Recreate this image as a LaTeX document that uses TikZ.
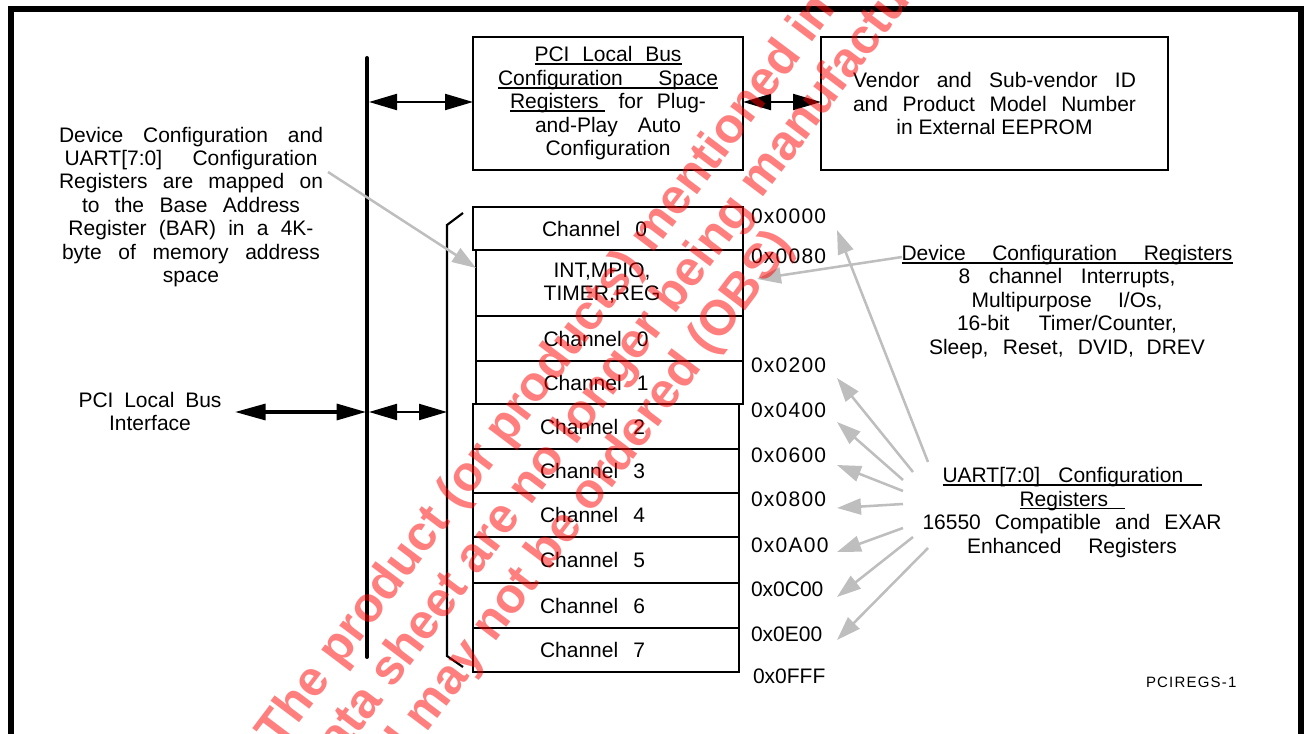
\documentclass[tikz,border=0pt]{standalone}
\usepackage{fontspec}
\setmainfont{Liberation Sans}
\usetikzlibrary{arrows.meta}
\newdimen\pxu \pxu=0.75pt
\newsavebox\ulnbox
\newcommand\uln[1]{\sbox\ulnbox{#1}\rlap{\rule[-2.4pt]{\wd\ulnbox}{1.4pt}}\usebox\ulnbox}
\newcommand\js[2]{\makebox[#1\pxu][s]{#2}}
\newcommand\chan[1]{\js{105}{Channel #1}\hspace*{27\pxu}}
\newcommand\lsp{\addfontfeature{LetterSpace=6}}
\definecolor{arrowgray}{RGB}{190,190,190}
\begin{document}
\begin{tikzpicture}[x=0.75pt,y=-0.75pt,
  every node/.style={font=\fontsize{15.75}{17.6}\selectfont, inner sep=0pt, outer sep=0pt},
  box/.style={draw, line width=1.5pt, align=center},
  reg/.style={draw, line width=1.8pt},
  bk/.style={line width=1.6pt, {Triangle[length=21pt,width=12pt]}-{Triangle[length=21pt,width=12pt]}},
  bkthick/.style={line width=2.4pt, {Triangle[length=23pt,width=12pt]}-{Triangle[length=22pt,width=12pt]}},
  ga/.style={draw=arrowgray, line width=1.9pt, -{Triangle[length=18pt,width=12pt]}},
  txt/.style={align=center},
  addr/.style={anchor=west},
  wm/.style={font=\bfseries\fontsize{37}{37}\selectfont, text=red, text opacity=0.5, rotate=53, anchor=base west}
]
\useasboundingbox (0,0) rectangle (1304,734);
\clip (0,0) rectangle (1304,734);

% frame
\draw[line width=4.5pt] (10.5,745) -- (10.5,9) -- (1300.5,9) -- (1300.5,745);

% bus
\coordinate (busT) at (367,58);
\coordinate (busB) at (367,657);
\draw[line width=3pt, line cap=round] (busT) -- (busB);

% top boxes
\node[box, minimum width=202.5pt, minimum height=99.75pt] (pci) at (608,103.5)
  {\uln{\js{147}{PCI Local Bus}}\\ \uln{\js{220}{Configuration Space}}\\ \js{196}{\uln{Registers\ } for Plug-}\\ \js{146}{and-Play Auto}\\ Configuration};
\node[box, minimum width=260.25pt, minimum height=99.75pt] (ven) at (994.5,103.5)
  {\js{283}{Vendor and Sub-vendor ID}\\ \js{283}{and Product Model Number}\\ in External EEPROM};

\coordinate (busA) at (369,102);
\draw[bk] (busA) -- (pci.west |- busA);
\draw[bk] (pci.east |- busA) -- (ven.west |- busA);

% register stack
\node[reg, minimum width=202.5pt, minimum height=32.25pt] (r0) at (608,228.5) {\chan{0}};
\node[reg, minimum width=200.25pt, minimum height=49.5pt] (r1) at (609.5,283) {};
\node[txt] (r1t) at (602,283) {INT,MPIO,\\TIMER,REG};
\node[reg, minimum width=200.25pt, minimum height=33.75pt] (r2) at (609.5,338.5) {\chan{0}};
\node[reg, minimum width=200.25pt, minimum height=32.25pt] (r3) at (609.5,382.5) {\chan{1}};
\node[reg, minimum width=199.5pt, minimum height=33.75pt] (r4) at (606,426.5) {\chan{2}};
\node[reg, minimum width=199.5pt, minimum height=33pt] (r5) at (606,471) {\chan{3}};
\node[reg, minimum width=199.5pt, minimum height=33pt] (r6) at (606,515) {\chan{4}};
\node[reg, minimum width=199.5pt, minimum height=34.5pt] (r7) at (606,560) {\chan{5}};
\node[reg, minimum width=199.5pt, minimum height=33.75pt] (r8) at (606,605.5) {\chan{6}};
\node[reg, minimum width=199.5pt, minimum height=33pt] (r9) at (606,650) {\chan{7}};

% bracket
\coordinate (brT1) at (463,213);
\coordinate (brT2) at (447,225);
\coordinate (brB2) at (447,656);
\coordinate (brB1) at (463,667);
\draw[line width=1.6pt] (brT1) -- (brT2) -- (brB2) -- (brB1);

% PCI interface
\node[txt] (pcitxt) at (150,411.5) {\js{143}{PCI Local Bus}\\Interface};
\coordinate (ifL) at (235,412);
\coordinate (busIL) at (366,412);
\coordinate (busIR) at (369,412);
\coordinate (brI) at (447,412);
\draw[bkthick] (ifL) -- (busIL);
\draw[bk] (busIR) -- (brI);

% left description
\node[txt] (lefttxt) at (191,207)
  {\js{264}{Device Configuration and}\\ \js{253}{UART[7:0] Configuration}\\ \js{264}{Registers are mapped on}\\ \js{218}{to the Base Address}\\ \js{245}{Register (BAR) in a 4K-}\\ \js{258}{byte of memory address}\\ space};

% addresses
\node[addr] (a0) at (751,216) {\lsp 0x0000};
\node[addr] (a1) at (751,256) {\lsp 0x0080};
\node[addr] (a2) at (751,365) {\lsp 0x0200};
\node[addr] (a3) at (751,410) {\lsp 0x0400};
\node[addr] (a4) at (751,455) {\lsp 0x0600};
\node[addr] (a5) at (751,499) {\lsp 0x0800};
\node[addr] (a6) at (751,545) {\lsp 0x0A00};
\node[addr] (a7) at (751,589) {0x0C00};
\node[addr] (a8) at (751,634) {0x0E00};
\node[addr] (a9) at (753,676) {0x0FFF};

% right descriptions
\node[txt] (devreg) at (1067,302)
  {\uln{\js{331}{Device Configuration Registers}}\\ \js{217}{8 channel Interrupts,}\\ \js{191}{Multipurpose I/Os,}\\ \js{220}{16-bit Timer/Counter,}\\ \js{276}{Sleep, Reset, DVID, DREV}};
\node[txt] (uart) at (1072,512.5)
  {\uln{\js{259}{UART[7:0] Configuration\ }}\\ \uln{\js{105}{Registers\ }}\\ \js{299}{16550 Compatible and EXAR}\\ \js{210}{Enhanced Registers}};
\node[anchor=west, font=\fontsize{11.25}{13}\selectfont\addfontfeature{LetterSpace=8}] (tag) at (1146,682) {PCIREGS-1};

% gray arrows
\coordinate (g1s) at (328,172);
\draw[ga] (g1s) -- ([yshift=11.25pt]r1.west);
\coordinate (g2s) at (902,257);
\coordinate (g2e) at (757,279);
\draw[ga] (g2s) -- (g2e);
\foreach \i/\sx/\sy/\ey in {0/928/462/230, 1/913/472/378, 2/903/480/422, 3/903/491/465, 4/903/504/508, 5/903/528/552, 6/913/537/597, 7/928/548/640}{
  \coordinate (us\i) at (\sx,\sy);
  \coordinate (ut\i) at (837,\ey);
  \draw[ga] (us\i) -- (ut\i);
}

% watermark
\node[wm] (wm1) at (279.6,749.3) {The product (or products) mentioned in this};
\node[wm] (wm2) at (322.8,781.9) {data sheet are no longer being manufactured};
\node[wm] (wm3) at (365.9,814.4) {and may not be ordered (OBS)};
\end{tikzpicture}
\end{document}
